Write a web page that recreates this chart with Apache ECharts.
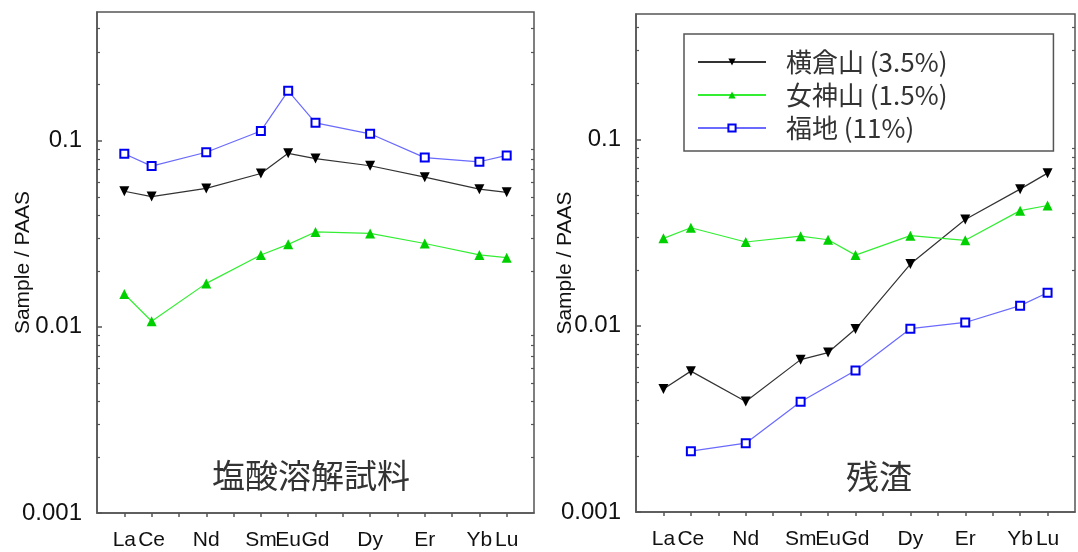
<!DOCTYPE html>
<html><head><meta charset="utf-8">
<script src="https://cdn.jsdelivr.net/npm/echarts@6/dist/echarts.min.js"></script>
<style>html,body{margin:0;padding:0;background:#fff}#c{width:1078px;height:552px}</style>
</head><body><div id="c"></div>
<script>
// categories: REE by atomic number, with blank padding slot at each end
const elements = ['', 'La','Ce','Pr','Nd','Pm','Sm','Eu','Gd','Tb','Dy','Ho','Er','Tm','Yb','Lu',''];
const shownLabels = ['La','Ce','Nd','Sm','Eu','Gd','Dy','Er','Yb','Lu'];
const seriesNames = ['横倉山 (3.5%)', '女神山 (1.5%)', '福地 (11%)'];
const panelTitles = ['塩酸溶解試料', '残渣'];
const yAxisName = 'Sample / PAAS';
const yMin = 0.001;
const yMaxLeft = 0.49;
const yMaxRight = 0.47;

// Left panel: HCl-dissolved fraction (Sample/PAAS)
//                 -    La      Ce      Pr    Nd      Pm    Sm      Eu      Gd      Tb    Dy      Ho    Er      Tm    Yb      Lu      -
const hclYokokura = [null,0.0534,0.0500,null,0.0553,null,0.0665,0.0854,0.0800,null,0.0732,null,0.0636,null,0.0548,0.0527,null];
const hclMegami   = [null,0.0150,0.0107,null,0.0171,null,0.0243,0.0277,0.0323,null,0.0317,null,0.0280,null,0.0243,0.0235,null];
const hclFukuchi  = [null,0.0850,0.0729,null,0.0865,null,0.1126,0.1848,0.1245,null,0.1087,null,0.0810,null,0.0769,0.0832,null];

// Right panel: residue
const resYokokura = [null,0.00457,0.00570,null,0.00392,null,0.00657,0.00717,0.00959,null,0.0214,null,0.0371,null,0.0540,0.0658,null];
const resMegami   = [null,0.0294,0.0335,null,0.0281,null,0.0302,0.0289,0.0239,null,0.0304,null,0.0287,null,0.0414,0.0441,null];
const resFukuchi  = [null,null,0.00212,null,0.00234,null,0.00390,null,0.00575,null,0.00963,null,0.0104,null,0.0128,0.0150,null];

const FRAME = '#555';
const LATIN = 'Liberation Sans, Arial, sans-serif';
const CJK = '"Noto Sans CJK JP", sans-serif';

const styles = [
  {symbol:'triangle', symbolRotate:180, symbolSize:10, line:'#333', item:{color:'#000'}},
  {symbol:'triangle', symbolRotate:0, symbolSize:10, line:'#33ee33', item:{color:'#00d000'}},
  {symbol:'rect', symbolRotate:0, symbolSize:8, line:'#6a6aff', item:{color:'#fff', borderColor:'#0000f0', borderWidth:2}}
];

function mkX(gi){
  return {
    type:'category', gridIndex:gi, data:elements, boundaryGap:false,
    axisLine:{lineStyle:{color:FRAME, width:1.5}},
    axisTick:{show:true, length:4, lineStyle:{color:FRAME, width:1.5},
      interval:function(i, v){ return v !== ''; }},
    axisLabel:{interval:0, margin:17, fontFamily:LATIN, fontSize:21, color:'#111',
      formatter:function(v){ return shownLabels.indexOf(v) >= 0 ? v : ''; }},
    splitLine:{show:false}
  };
}
function mkY(gi, max, gap){
  return {
    type:'log', gridIndex:gi, min:yMin, max:max, logBase:10,
    name:yAxisName, nameLocation:'middle', nameRotate:90, nameGap:gap, nameMoveOverlap:false,
    nameTextStyle:{fontFamily:LATIN, fontSize:21, color:'#111'},
    axisLine:{show:true, lineStyle:{color:FRAME, width:1.5}},
    axisTick:{show:true, inside:true, length:5, lineStyle:{color:FRAME, width:1.5}},
    axisLabel:{margin:15, fontFamily:LATIN, fontSize:24, color:'#111', showMaxLabel:false,
      formatter:function(v){ return String(+v.toPrecision(3)); }},
    splitLine:{show:false}
  };
}
function mkSeries(gi, idx, data){
  const s = styles[idx];
  return {
    type:'line', name:seriesNames[idx], xAxisIndex:gi, yAxisIndex:gi, data:data,
    connectNulls:true, symbol:s.symbol, symbolRotate:s.symbolRotate, symbolSize:s.symbolSize,
    showAllSymbol:true, animation:false,
    lineStyle:{color:s.line, width:1.2}, itemStyle:s.item, z:3+idx
  };
}

const chart = echarts.init(document.getElementById('c'), null, {renderer:'canvas'});
const option = {
  backgroundColor:'#fff',
  animation:false,
  grid:[
    {left:97, top:12, width:437, height:501, show:true, borderColor:FRAME, borderWidth:1.5, backgroundColor:'transparent'},
    {left:636, top:14, width:453, height:498, show:true, borderColor:FRAME, borderWidth:1.5, backgroundColor:'transparent'}
  ],
  xAxis:[mkX(0), mkX(1)],
  yAxis:[mkY(0, yMaxLeft, 63), mkY(1, yMaxRight, 60)],
  legend:{
    show:true, orient:'vertical', left:684, top:34,
    data:seriesNames,
    itemWidth:68, itemHeight:9, itemGap:7,
    padding:[15, 106, 10, 13],
    borderColor:'#555', borderWidth:1.5, backgroundColor:'#fff',
    textStyle:{fontFamily:CJK, fontSize:26, color:'#333', lineHeight:26, padding:[0,0,0,15]}
  },
  series:[
    mkSeries(0,0,hclYokokura), mkSeries(0,1,hclMegami), mkSeries(0,2,hclFukuchi),
    mkSeries(1,0,resYokokura), mkSeries(1,1,resMegami), mkSeries(1,2,resFukuchi)
  ]
};
chart.setOption(option);

// panel titles and minor log ticks placed through the axes' own scales
function addDecor(){
  const els = [];
  const maxes = [yMaxLeft, yMaxRight];
  for (let gi = 0; gi < 2; gi++){
    const xl = chart.convertToPixel({xAxisIndex:gi}, 0);
    const xr = chart.convertToPixel({xAxisIndex:gi}, elements.length - 1);
    for (let d = yMin; d < maxes[gi]; d *= 10){
      for (let m = 2; m <= 9; m++){
        const v = d * m;
        if (v > maxes[gi]) break;
        const y = Math.round(chart.convertToPixel({yAxisIndex:gi}, v)) + 0.5;
        els.push({type:'line', silent:true, shape:{x1:xl, y1:y, x2:xl+3, y2:y}, style:{stroke:FRAME, lineWidth:1.2}});
        els.push({type:'line', silent:true, shape:{x1:xr-3, y1:y, x2:xr, y2:y}, style:{stroke:FRAME, lineWidth:1.2}});
      }
    }
  }
  const titlePos = [[311, 475], [879, 476]];
  for (let gi = 0; gi < 2; gi++){
    els.push({type:'text', silent:true, x:titlePos[gi][0], y:titlePos[gi][1],
      style:{text:panelTitles[gi], fontFamily:CJK, fontSize:33, fill:'#333', align:'center', verticalAlign:'middle'}});
  }
  chart.setOption({graphic:{elements:els}});
}
addDecor();
</script>
</body></html>
